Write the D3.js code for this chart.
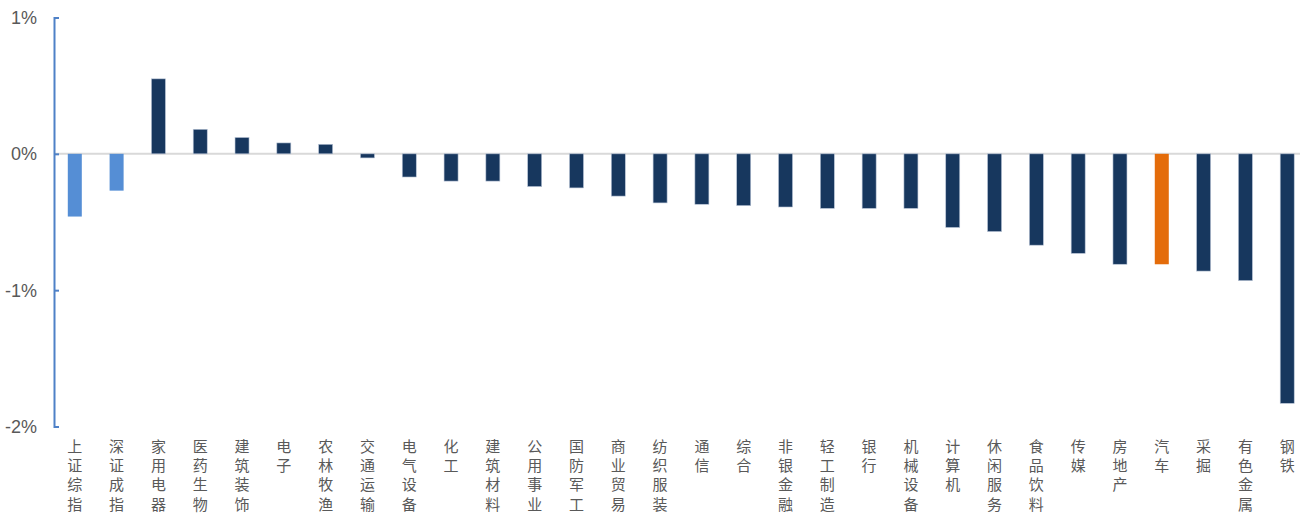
<!DOCTYPE html>
<html>
<head>
<meta charset="utf-8">
<script src="https://cdn.jsdelivr.net/npm/d3@7"></script>
<style>
  html, body { margin: 0; padding: 0; background: #fff; }
</style>
</head>
<body>
<div id="chart"></div>
<script>
// categories and returns (%)
const categories = ["上证综指","深证成指","家用电器","医药生物","建筑装饰","电子","农林牧渔","交通运输","电气设备","化工",
  "建筑材料","公用事业","国防军工","商业贸易","纺织服装","通信","综合","非银金融","轻工制造","银行",
  "机械设备","计算机","休闲服务","食品饮料","传媒","房地产","汽车","采掘","有色金属","钢铁"];
const values = [-0.46,-0.27,0.55,0.18,0.12,0.08,0.07,-0.03,-0.17,-0.20,
  -0.20,-0.24,-0.25,-0.31,-0.36,-0.37,-0.38,-0.39,-0.40,-0.40,
  -0.40,-0.54,-0.57,-0.67,-0.73,-0.81,-0.81,-0.86,-0.93,-1.83];
const indexNames = ["上证综指","深证成指"];
const highlight = ["汽车"];
const yTicks = [1, 0, -1, -2];

const width = 1312, height = 513;
const margin = { top: 17.5, right: 4, bottom: 86.5, left: 54 };

const svg = d3.select("#chart").append("svg")
  .attr("width", width).attr("height", height);

const x = d3.scaleBand().domain(categories)
  .range([margin.left, width - margin.right]).paddingInner(0.665).paddingOuter(0.33);
const y = d3.scaleLinear().domain([-2, 1]).range([height - margin.bottom, margin.top]);

function barColor(name) {
  if (indexNames.includes(name)) return "#558ed5";
  if (highlight.includes(name)) return "#e46c0a";
  return "#17375e";
}

// zero line
svg.append("line")
  .attr("x1", margin.left).attr("x2", width - 12)
  .attr("y1", y(0)).attr("y2", y(0))
  .attr("stroke", "#d9d9d9").attr("stroke-width", 2);

const data = categories.map((c, i) => ({ name: c, value: values[i] }));

svg.selectAll(".bar").data(data).enter().append("rect")
  .attr("class", "bar")
  .attr("x", d => x(d.name))
  .attr("width", x.bandwidth())
  .attr("y", d => y(Math.max(0, d.value)))
  .attr("height", d => Math.abs(y(d.value) - y(0)))
  .attr("fill", d => barColor(d.name))
  .attr("stroke", d => barColor(d.name) === "#17375e" ? "#b8c4d6" : "none")
  .attr("stroke-width", 0.6);

// y axis
const yAxis = svg.append("g")
  .attr("transform", `translate(${margin.left},0)`)
  .call(d3.axisRight(y).tickValues(yTicks).tickSize(5).tickFormat(""));
yAxis.select(".domain").attr("stroke", "#4f81c7").attr("stroke-width", 2);
yAxis.selectAll(".tick line").attr("stroke", "#4f81c7").attr("stroke-width", 2);

svg.selectAll(".ylab").data(yTicks).enter().append("text")
  .attr("class", "ylab")
  .attr("x", 37).attr("y", d => y(d))
  .attr("dy", "0.36em")
  .attr("text-anchor", "end")
  .attr("font-family", "Arial, 'Liberation Sans', sans-serif")
  .attr("font-size", 18)
  .attr("fill", "#595959")
  .text(d => d + "%");

// vertical category labels
const lab = svg.selectAll(".xlab").data(categories).enter().append("text")
  .attr("class", "xlab")
  .attr("font-family", "'Noto Sans CJK SC', sans-serif")
  .attr("font-size", 15)
  .attr("fill", "#595959")
  .attr("text-anchor", "middle");
lab.selectAll("tspan").data(d => Array.from(d).map(ch => ({ ch, name: d })))
  .enter().append("tspan")
  .attr("x", d => x(d.name) + x.bandwidth() / 2)
  .attr("y", (d, i) => 452 + i * 19.2)
  .text(d => d.ch);
</script>
</body>
</html>
